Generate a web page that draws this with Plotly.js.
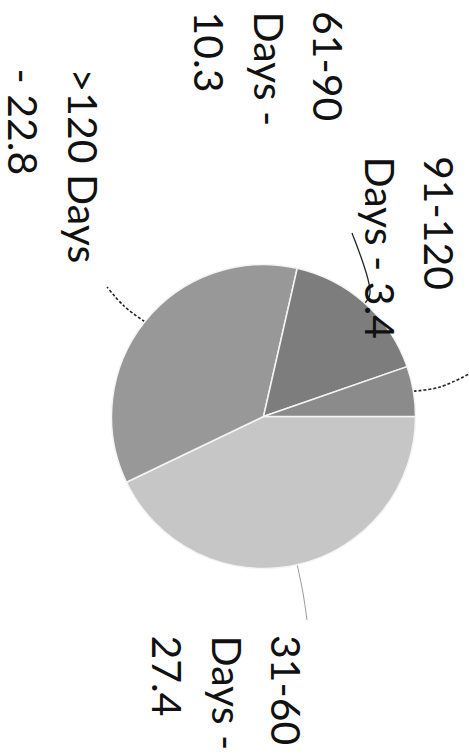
<!DOCTYPE html>
<html>
<head>
<meta charset="utf-8">
<script src="https://cdn.plot.ly/plotly-3.0.1.min.js"></script>
<style>
  html, body { margin: 0; padding: 0; background: #ffffff; }
  #chart { width: 469px; height: 755px; }
</style>
</head>
<body>
<div id="chart"></div>
<script>
// ---- data ----
const categories = ["31-60 Days", ">120 Days", "61-90 Days", "91-120 Days"];
const values = [27.4, 22.8, 10.3, 3.4];

// ---- styling / layout ----
const sliceColors = ["#c6c6c6", "#989898", "#7d7d7d", "#8b8b8b"];
const wordsPerLine = [[1, 2, 1], [2, 2], [1, 2, 1], [1, 3]];
const labelFirstLineX = [287, 83, 329, 440];   // px, centre of first text line
const labelStartY = [634, 67, 10, 155];        // px, where the text starts
const lineStep = 60;
const leaderWaypoints = [
  [[303, 593], [307, 620]],
  [[124, 306], [107, 287]],
  [[370, 293], [352, 233]],
  [[440, 387], [469, 374]]
];
const leaderStyles = [
  { color: "#9a9a9a", width: 1, dash: "solid" },
  { color: "#222222", width: 1.6, dash: "3px,2px" },
  { color: "#222222", width: 1.3, dash: "solid" },
  { color: "#222222", width: 1.6, dash: "3px,2px" }
];

const W = 469, H = 755;
const cx = 263.5, cy = 416.5, R = 152;

const total = values.reduce((a, b) => a + b, 0);

const traces = [{
  type: "pie",
  labels: categories,
  values: values,
  sort: false,
  direction: "clockwise",
  rotation: 90,
  textinfo: "none",
  hoverinfo: "skip",
  showlegend: false,
  marker: { colors: sliceColors, line: { color: "#f4f4f4", width: 1.5 } },
  domain: { x: [(cx - R) / W, (cx + R) / W], y: [1 - (cy + R) / H, 1 - (cy - R) / H] }
}];

// leader lines starting at each slice's mid-angle on the rim
let cum = 0;
const annotations = [];
values.forEach((v, i) => {
  const ang = (cum + v / 2) / total * 2 * Math.PI; // clockwise from east
  cum += v;
  const sx = cx + R * Math.cos(ang);
  const sy = cy + R * Math.sin(ang);
  const xs = [sx].concat(leaderWaypoints[i].map(p => p[0]));
  const ys = [sy].concat(leaderWaypoints[i].map(p => p[1]));
  traces.push({
    type: "scatter", mode: "lines", x: xs, y: ys,
    line: Object.assign({ shape: "spline" }, leaderStyles[i]),
    hoverinfo: "skip", showlegend: false, xaxis: "x", yaxis: "y"
  });

  const words = (categories[i] + " - " + values[i]).split(" ");
  let k = 0;
  wordsPerLine[i].forEach((n, li) => {
    const txt = words.slice(k, k + n).join(" ");
    k += n;
    annotations.push({
      xref: "x", yref: "y",
      x: labelFirstLineX[i] - li * lineStep,
      y: labelStartY[i],
      xanchor: "center", yanchor: "top",
      text: txt, textangle: 90, showarrow: false, borderpad: 0,
      font: { family: "Lato, 'Open Sans', sans-serif", size: 41, color: "#111111" }
    });
  });
});

const layout = {
  width: W, height: H,
  margin: { l: 0, r: 0, t: 0, b: 0 },
  paper_bgcolor: "#ffffff", plot_bgcolor: "rgba(0,0,0,0)",
  showlegend: false,
  xaxis: { range: [0, W], visible: false, fixedrange: true, domain: [0, 1] },
  yaxis: { range: [H, 0], visible: false, fixedrange: true, domain: [0, 1] },
  annotations: annotations
};

Plotly.newPlot("chart", traces, layout, { staticPlot: true, displayModeBar: false });
</script>
</body>
</html>
